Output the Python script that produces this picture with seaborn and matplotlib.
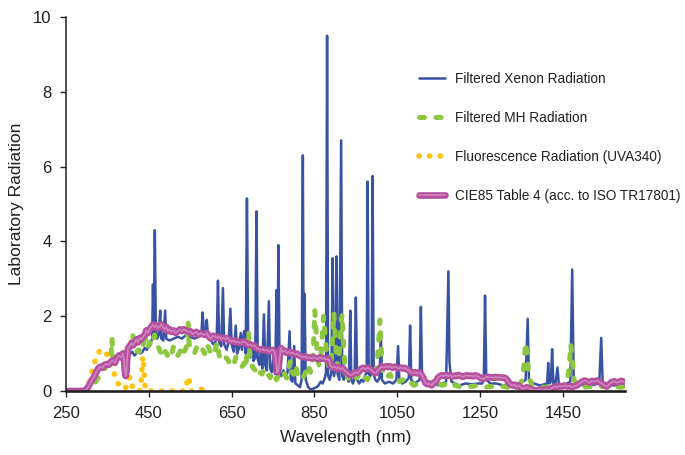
import matplotlib
matplotlib.use("Agg")
import matplotlib.pyplot as plt
import seaborn as sns
import pandas as pd
from matplotlib.legend_handler import HandlerTuple

# ---- spectra (wavelength in nm, relative radiation) ----
xenon_nm = [
    250, 260, 270, 280, 290, 300, 310, 320, 330, 340,
    350, 360, 370, 380, 390, 395, 400, 405, 410, 415,
    420, 425, 430, 435, 440, 445, 450, 455, 458, 460,
    462, 464.5, 467, 470, 474, 477.5, 480, 485, 489.5, 492,
    500, 510, 520, 530, 540, 550, 560, 570, 577, 580,
    583, 587, 590, 593, 600, 606, 610, 614, 617, 620,
    625, 629, 632, 638, 643, 647, 650, 655, 660, 663,
    668, 672, 675, 680, 684, 687, 690, 695, 700, 703,
    707, 710, 713, 717, 721, 724, 728, 731, 735, 740,
    743, 747, 751, 755, 758.5, 760.5, 763, 766, 770, 775,
    780, 785, 790, 793, 797, 801, 804, 810, 815, 819,
    822, 824, 826, 829, 835, 840, 845, 850, 855, 860,
    865, 870, 875, 878, 880.5, 883, 887, 891, 894, 897,
    900, 903.5, 906, 910, 914.5, 917, 921, 925, 929, 933,
    936.5, 939, 943, 947, 950, 953, 958, 963, 968, 972,
    976, 978.5, 981, 985, 988, 990.5, 993, 997, 1002, 1007,
    1010.5, 1013, 1020, 1030, 1040, 1048, 1052, 1055, 1062, 1070,
    1078, 1081, 1084, 1090, 1098, 1104, 1107, 1110, 1118, 1130,
    1140, 1150, 1160, 1168, 1173.5, 1176, 1178, 1181, 1190, 1200,
    1215, 1230, 1245, 1255, 1259, 1262, 1265, 1275, 1290, 1305,
    1320, 1335, 1350, 1360, 1365, 1368, 1380, 1395, 1405, 1412,
    1414.5, 1417, 1421, 1424, 1427, 1432, 1437, 1440, 1450, 1460,
    1468, 1472.5, 1476, 1485, 1500, 1515, 1530, 1538, 1542.5, 1546,
    1555, 1570, 1585, 1600,
]
xenon_val = [
    0, 0, 0, 0, 0.02, 0.12, 0.3, 0.45, 0.55, 0.62,
    0.7, 0.78, 0.85, 0.9, 0.95, 1.0, 0.9, 1.0, 1.05, 0.95,
    1.0, 1.1, 1.0, 1.05, 1.15, 1.1, 1.2, 1.3, 1.4, 2.85,
    1.5, 4.3, 1.6, 1.4, 1.5, 2.15, 1.4, 1.35, 2.15, 1.4,
    1.35, 1.4, 1.45, 1.4, 1.5, 1.45, 1.4, 1.45, 1.55, 2.1,
    1.6, 1.5, 1.9, 1.45, 1.35, 1.25, 1.3, 1.4, 2.95, 1.3,
    1.2, 2.75, 1.25, 1.1, 1.35, 2.2, 1.25, 1.05, 1.75, 1.0,
    1.15, 1.55, 1.1, 1.6, 1.0, 5.15, 1.1, 0.9, 1.2, 0.8,
    0.9, 4.8, 0.85, 0.7, 1.1, 0.6, 2.05, 0.7, 0.55, 2.4,
    0.6, 0.5, 0.9, 0.45, 2.7, 0.8, 3.9, 0.5, 0.4, 0.55,
    0.35, 0.5, 1.6, 0.3, 0.25, 1.2, 0.2, 0.15, 0.1, 0.3,
    6.3, 0.4, 2.6, 0.3, 0.1, 0.05, 0.05, 0.08, 0.1, 0.15,
    0.25, 0.2, 0.35, 0.5, 9.5, 0.4, 0.3, 0.5, 3.55, 0.4,
    0.6, 3.6, 0.45, 0.3, 6.7, 0.4, 0.3, 0.5, 0.35, 0.25,
    2.15, 0.3, 0.2, 0.35, 2.5, 0.3, 0.2, 0.3, 0.25, 0.4,
    0.5, 5.6, 0.45, 0.4, 0.5, 5.75, 0.45, 0.3, 0.25, 0.35,
    1.55, 0.3, 0.2, 0.25, 0.2, 0.3, 1.2, 0.3, 0.2, 0.25,
    0.35, 1.75, 0.3, 0.2, 0.25, 0.3, 2.25, 0.3, 0.15, 0.15,
    0.2, 0.15, 0.2, 0.25, 3.2, 0.8, 0.55, 0.25, 0.2, 0.15,
    0.2, 0.18, 0.2, 0.2, 0.3, 2.55, 0.3, 0.2, 0.2, 0.15,
    0.18, 0.2, 0.22, 0.3, 1.93, 0.3, 0.2, 0.15, 0.18, 0.2,
    0.75, 0.2, 0.25, 1.12, 0.2, 0.2, 0.63, 0.2, 0.15, 0.2,
    0.25, 3.25, 0.3, 0.2, 0.15, 0.15, 0.18, 0.25, 1.42, 0.25,
    0.18, 0.15, 0.15, 0.15,
]

mh_nm = [
    250, 270, 290, 300, 310, 320, 325, 330, 335, 340,
    345, 350, 355, 358, 361, 364, 368, 372, 376, 380,
    385, 390, 395, 400, 404, 408, 411, 414, 418, 422,
    426, 430, 435, 438, 441, 444, 448, 452, 456, 460,
    464, 468, 472, 476, 480, 485, 490, 495, 500, 505,
    510, 515, 520, 525, 530, 535, 540, 543, 545, 547,
    550, 555, 560, 565, 570, 575, 580, 585, 590, 595,
    600, 605, 610, 615, 620, 625, 630, 635, 640, 645,
    650, 655, 660, 665, 670, 675, 680, 684, 688, 691,
    694, 698, 703, 708, 713, 718, 723, 728, 733, 738,
    743, 748, 753, 758, 763, 768, 773, 778, 783, 788,
    792, 796, 800, 805, 810, 815, 820, 825, 830, 835,
    840, 845, 848, 851, 854, 857, 861, 865, 869, 872,
    875, 878, 882, 886, 890, 894, 897, 900, 903, 907,
    911, 914, 917, 920, 924, 928, 933, 938, 943, 948,
    953, 958, 963, 968, 973, 978, 983, 988, 993, 998,
    1002, 1005, 1008, 1011, 1014, 1018, 1025, 1032, 1040, 1048,
    1056, 1064, 1072, 1080, 1090, 1100, 1110, 1120, 1130, 1140,
    1150, 1160, 1170, 1180, 1190, 1200, 1215, 1230, 1245, 1260,
    1275, 1290, 1305, 1320, 1335, 1345, 1352, 1356, 1360, 1364,
    1368, 1375, 1390, 1405, 1420, 1435, 1450, 1460, 1465, 1469,
    1473, 1477, 1485, 1500, 1515, 1530, 1545, 1560, 1575, 1590,
    1600,
]
mh_val = [
    0, 0, 0, 0.02, 0.08, 0.22, 0.3, 0.4, 0.5, 0.55,
    0.62, 0.7, 0.75, 0.8, 1.4, 0.85, 0.8, 0.95, 0.9, 0.95,
    1.0, 1.05, 1.0, 1.1, 1.2, 1.3, 1.55, 1.2, 1.1, 1.05,
    1.1, 1.0, 1.15, 1.3, 1.6, 1.25, 1.15, 1.3, 1.2, 1.35,
    1.5, 1.3, 1.2, 1.1, 1.0, 1.15, 1.05, 0.95, 1.1, 1.0,
    1.2, 1.1, 0.95, 1.05, 1.2, 1.05, 1.15, 1.5, 1.87, 1.3,
    1.15, 1.05, 1.0, 1.15, 1.2, 1.05, 1.1, 1.0, 1.25, 1.15,
    1.0, 0.95, 1.1, 1.3, 0.95, 0.85, 0.8, 0.9, 0.85, 0.75,
    0.8, 0.7, 0.9, 0.75, 0.7, 0.65, 0.75, 0.6, 1.2, 1.6,
    1.0, 0.7, 0.6, 0.55, 0.65, 0.5, 0.45, 0.55, 0.4, 0.45,
    0.35, 0.5, 0.45, 0.3, 0.4, 0.35, 0.5, 0.45, 0.35, 0.6,
    0.8, 0.5, 0.45, 0.7, 0.4, 0.3, 0.35, 0.4, 0.55, 0.7,
    0.5, 0.75, 1.3, 2.15, 1.6, 0.9, 0.7, 0.8, 1.5, 2.0,
    1.6, 1.2, 0.8, 0.6, 0.7, 1.4, 2.1, 1.5, 0.8, 0.65,
    1.2, 1.8, 2.05, 1.3, 0.6, 0.45, 0.3, 0.25, 0.3, 0.4,
    0.35, 0.45, 0.5, 0.4, 0.35, 0.3, 0.4, 0.35, 0.45, 0.5,
    0.8, 1.3, 1.9, 1.2, 0.6, 0.4, 0.35, 0.45, 0.3, 0.35,
    0.25, 0.3, 0.2, 0.25, 0.15, 0.2, 0.15, 0.25, 0.2, 0.15,
    0.2, 0.15, 0.2, 0.25, 0.15, 0.12, 0.15, 0.12, 0.15, 0.1,
    0.12, 0.1, 0.12, 0.1, 0.12, 0.15, 0.3, 0.7, 1.3, 0.9,
    0.4, 0.15, 0.12, 0.1, 0.12, 0.1, 0.12, 0.2, 0.6, 1.25,
    0.8, 0.3, 0.12, 0.1, 0.12, 0.1, 0.12, 0.1, 0.12, 0.1,
    0.12,
]

uva_nm = [
    295, 300, 305, 310, 315, 320, 325, 330, 335, 340,
    345, 350, 355, 360, 365, 370, 375, 380, 385, 390,
    395, 400, 404, 408, 412, 420, 428, 432, 434, 436,
    438, 440, 443, 460, 480, 500, 520, 535, 540, 543,
    546, 549, 552, 570, 578, 582, 590, 600,
]
uva_val = [
    0, 0.05, 0.2, 0.4, 0.6, 0.8, 0.95, 1.05, 1.1, 1.1,
    1.05, 0.95, 0.8, 0.65, 0.5, 0.35, 0.22, 0.12, 0.08, 0.05,
    0.1, 0.25, 0.38, 0.2, 0.05, 0, 0, 0.3, 0.7, 0.92,
    0.6, 0.2, 0, 0, 0, 0, 0, 0, 0.05, 0.3,
    0.38, 0.15, 0, 0, 0.05, 0.02, 0, 0,
]

cie_nm = [
    250, 260, 270, 280, 290, 298, 303, 308, 313, 318,
    323, 328, 333, 338, 343, 348, 353, 358, 363, 368,
    373, 378, 383, 387, 390, 392, 394, 396, 398, 400,
    404, 408, 412, 416, 420, 424, 428, 432, 436, 440,
    444, 448, 452, 456, 460, 464, 468, 472, 476, 480,
    484, 488, 492, 496, 500, 505, 510, 515, 520, 525,
    530, 535, 540, 545, 550, 555, 560, 565, 570, 575,
    580, 585, 590, 595, 600, 605, 610, 615, 620, 625,
    630, 635, 640, 645, 650, 655, 660, 665, 670, 675,
    680, 685, 690, 695, 700, 705, 710, 715, 720, 725,
    730, 735, 740, 745, 750, 754, 757, 760, 763, 766,
    769, 773, 778, 783, 788, 793, 798, 803, 808, 813,
    818, 823, 828, 833, 838, 843, 848, 853, 858, 863,
    868, 873, 878, 883, 886, 889, 893, 898, 903, 908,
    913, 918, 923, 928, 933, 938, 943, 948, 953, 958,
    963, 968, 973, 978, 983, 988, 993, 998, 1003, 1008,
    1013, 1018, 1023, 1028, 1033, 1038, 1043, 1048, 1053, 1058,
    1063, 1068, 1073, 1078, 1083, 1088, 1093, 1098, 1103, 1108,
    1113, 1118, 1123, 1128, 1133, 1138, 1143, 1148, 1153, 1158,
    1163, 1168, 1173, 1178, 1183, 1188, 1193, 1198, 1203, 1208,
    1213, 1218, 1223, 1228, 1233, 1238, 1243, 1248, 1253, 1258,
    1263, 1268, 1273, 1278, 1283, 1288, 1293, 1298, 1303, 1308,
    1313, 1318, 1323, 1328, 1333, 1338, 1343, 1348, 1353, 1358,
    1363, 1370, 1378, 1386, 1394, 1402, 1410, 1418, 1424, 1430,
    1436, 1442, 1448, 1454, 1460, 1466, 1472, 1478, 1484, 1490,
    1496, 1502, 1508, 1514, 1520, 1526, 1532, 1538, 1544, 1550,
    1556, 1562, 1568, 1574, 1580, 1586, 1592, 1598,
]
cie_val = [
    0, 0, 0, 0, 0, 0.02, 0.1, 0.2, 0.3, 0.38,
    0.5, 0.6, 0.65, 0.62, 0.7, 0.72, 0.7, 0.78, 0.82, 0.75,
    0.88, 0.95, 0.9, 1.0, 0.85, 0.55, 0.4, 0.5, 0.9, 1.15,
    1.2, 1.28, 1.22, 1.3, 1.38, 1.3, 1.42, 1.38, 1.45, 1.5,
    1.62, 1.55, 1.65, 1.72, 1.78, 1.7, 1.75, 1.68, 1.72, 1.78,
    1.7, 1.65, 1.72, 1.6, 1.65, 1.58, 1.62, 1.55, 1.6, 1.65,
    1.6, 1.65, 1.62, 1.58, 1.6, 1.52, 1.55, 1.58, 1.5, 1.55,
    1.52, 1.5, 1.55, 1.45, 1.4, 1.48, 1.45, 1.42, 1.45, 1.4,
    1.42, 1.38, 1.42, 1.35, 1.32, 1.35, 1.3, 1.32, 1.28, 1.3,
    1.33, 1.28, 1.22, 1.25, 1.2, 1.22, 1.15, 1.12, 1.1, 1.12,
    1.08, 1.1, 1.05, 1.08, 1.1, 1.05, 0.8, 0.5, 0.55, 0.9,
    1.15, 1.05, 1.08, 1.02, 1.05, 1.0, 1.03, 0.98, 1.0, 0.95,
    0.92, 0.9, 0.93, 0.88, 0.9, 0.87, 0.9, 0.88, 0.85, 0.9,
    0.86, 0.88, 0.84, 0.86, 0.8, 0.68, 0.62, 0.66, 0.6, 0.64,
    0.58, 0.62, 0.55, 0.5, 0.45, 0.42, 0.45, 0.5, 0.48, 0.52,
    0.6, 0.62, 0.58, 0.62, 0.6, 0.56, 0.5, 0.48, 0.55, 0.62,
    0.65, 0.63, 0.66, 0.64, 0.66, 0.62, 0.65, 0.63, 0.6, 0.63,
    0.6, 0.62, 0.58, 0.55, 0.5, 0.48, 0.5, 0.47, 0.5, 0.45,
    0.35, 0.22, 0.18, 0.2, 0.15, 0.22, 0.25, 0.35, 0.4, 0.42,
    0.4, 0.43, 0.4, 0.42, 0.38, 0.41, 0.4, 0.43, 0.4, 0.38,
    0.4, 0.42, 0.4, 0.41, 0.39, 0.42, 0.4, 0.38, 0.33, 0.32,
    0.36, 0.38, 0.36, 0.37, 0.35, 0.38, 0.36, 0.37, 0.35, 0.36,
    0.33, 0.25, 0.18, 0.15, 0.17, 0.12, 0.15, 0.1, 0.05, 0.08,
    0.1, 0.06, 0.03, 0.02, 0.04, 0.02, 0.05, 0.03, 0.08, 0.12,
    0.1, 0.14, 0.12, 0.15, 0.12, 0.14, 0.1, 0.13, 0.15, 0.2,
    0.25, 0.28, 0.26, 0.22, 0.27, 0.25, 0.28, 0.24, 0.2, 0.15,
    0.12, 0.18, 0.24, 0.26, 0.22, 0.25, 0.27, 0.24,
]

series_labels = [
    "Filtered Xenon Radiation",
    "Filtered MH Radiation",
    "Fluorescence Radiation (UVA340)",
    "CIE85 Table 4 (acc. to ISO TR17801)",
]
x_ticks = [250, 450, 650, 850, 1050, 1250, 1450]
y_ticks = [0, 2, 4, 6, 8, 10]

# ---- styling ----
sns.set_style("ticks")
plt.rcParams["font.family"] = ["Liberation Sans", "DejaVu Sans"]
ink = "#231F20"
c_xenon = "#3953A4"
c_mh = "#8DC63F"
c_uva = "#FFC20E"
c_cie = "#B5509E"
c_cie_core = "#E9B8DE"

fig = plt.figure(figsize=(6.85, 4.55), dpi=100)
ax = fig.add_axes([66 / 685, 1 - 391 / 455, 559 / 685, 374 / 455])

xenon = pd.DataFrame({"nm": xenon_nm, "val": xenon_val})
mh = pd.DataFrame({"nm": mh_nm, "val": mh_val})
uva = pd.DataFrame({"nm": uva_nm, "val": uva_val})
cie = pd.DataFrame({"nm": cie_nm, "val": cie_val})

common = dict(x="nm", y="val", estimator=None, sort=False, ax=ax)
sns.lineplot(data=xenon, color=c_xenon, linewidth=1.8,
             solid_joinstyle="round", **common)
sns.lineplot(data=mh, color=c_mh, linewidth=3.6,
             linestyle=(0, (1.0, 2.3)), dash_capstyle="round", **common)
sns.lineplot(data=uva, color=c_uva, linewidth=4.0,
             linestyle=(0, (0.05, 1.85)), dash_capstyle="round", **common)
sns.lineplot(data=cie, color=c_cie, linewidth=4.8,
             solid_capstyle="round", solid_joinstyle="round", **common)
sns.lineplot(data=cie, color=c_cie_core, linewidth=1.2, alpha=0.5, **common)

lines = ax.get_lines()
handles = [lines[0], lines[1], lines[2], (lines[3], lines[4])]
leg = ax.legend(handles, series_labels, loc="upper left",
                bbox_to_anchor=(419 / 685, 1 - 72 / 455),
                bbox_transform=fig.transFigure, frameon=False,
                fontsize=9.85, handlelength=1.9, handletextpad=0.75,
                labelspacing=1.82, borderpad=0, borderaxespad=0,
                handler_map={tuple: HandlerTuple(ndivide=1, pad=0)})
for t in leg.get_texts():
    t.set_color(ink)

ax.set_xlim(250, 1600)
ax.set_ylim(0, 10)
ax.set_xticks(x_ticks)
ax.set_yticks(y_ticks)
ax.set_xticklabels([str(v) for v in x_ticks])
ax.set_yticklabels([str(v) for v in y_ticks])
ax.tick_params(axis="both", labelsize=12, colors=ink, length=4.5, width=1.0,
               direction="out", pad=6)

for side in ("top", "right"):
    ax.spines[side].set_visible(False)
ax.spines["left"].set_linewidth(1.1)
ax.spines["left"].set_color(ink)
ax.spines["bottom"].set_linewidth(1.9)
ax.spines["bottom"].set_color(ink)

ax.set_xlabel("Wavelength (nm)", fontsize=12.4, color=ink)
ax.set_ylabel("Laboratory Radiation", fontsize=12.6, color=ink)
ax.xaxis.set_label_coords(0.5, -0.105)
ax.yaxis.set_label_coords(-0.075, 0.5)

fig.savefig("out.png", dpi=100)
